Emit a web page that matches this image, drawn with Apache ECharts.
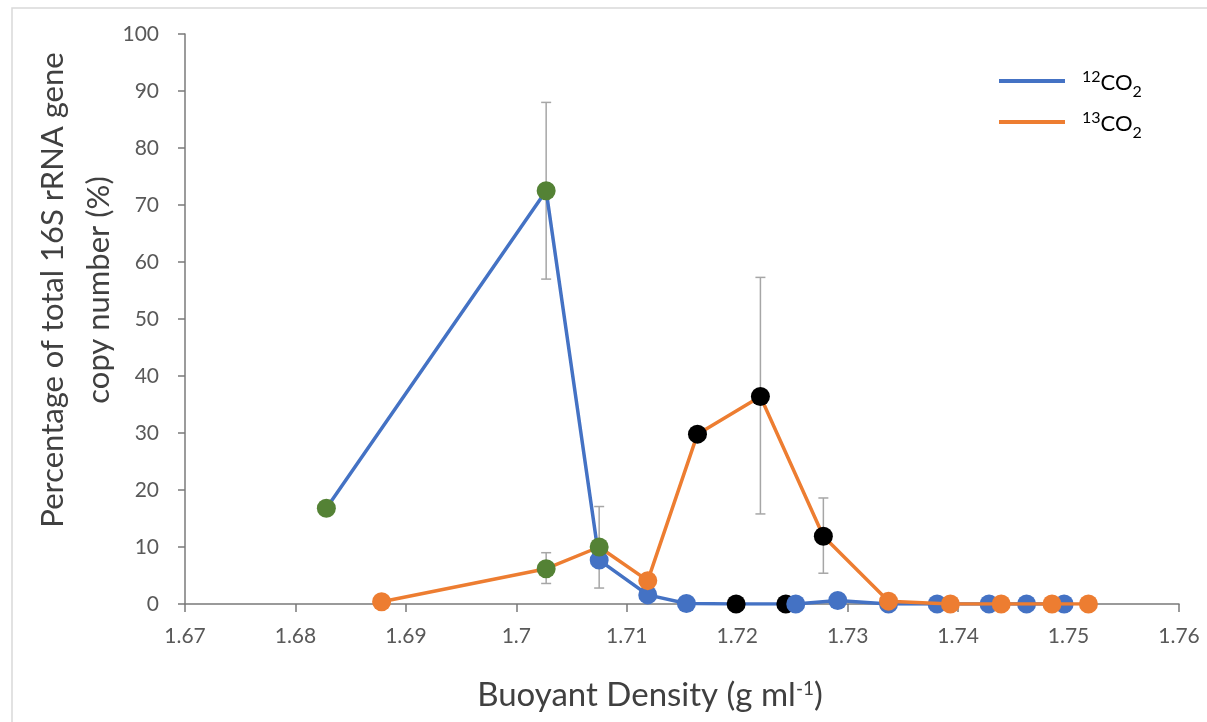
<!DOCTYPE html>
<html>
<head>
<meta charset="utf-8">
<script src="https://cdn.jsdelivr.net/npm/echarts@6/dist/echarts.min.js"></script>
<style>
    html, body { margin: 0; padding: 0; background: #fff; }
    #chart { width: 1207px; height: 722px; }
</style>
</head>
<body>
<div id="chart"></div>
<script>
    // 12CO2 (blue line)
    var density12 = [1.6828, 1.7027, 1.7075, 1.7119, 1.7154, 1.7199, 1.7244, 1.7253, 1.7291, 1.7337, 1.7381, 1.7428, 1.7462, 1.7496];
    var percent12 = [16.8, 72.5, 7.7, 1.6, 0.1, 0, 0, 0, 0.6, 0, 0, 0, 0, 0];
    var marker12 = ['g', 'g', '', '', '', 'k', 'k', '', '', '', '', '', '', ''];
    // 13CO2 (orange line)
    var density13 = [1.6878, 1.7027, 1.7075, 1.7119, 1.7164, 1.7221, 1.7278, 1.7337, 1.7393, 1.7439, 1.7485, 1.7518];
    var percent13 = [0.4, 6.2, 10.0, 4.1, 29.8, 36.4, 11.9, 0.5, 0, 0, 0, 0];
    var marker13 = ['', 'g', 'g', '', 'k', 'k', 'k', '', '', '', '', ''];
    // error bars: x, low, high
    var errX = [1.7027, 1.7027, 1.7075, 1.7221, 1.7278];
    var errLow = [57.0, 3.6, 2.8, 15.8, 5.4];
    var errHigh = [88.0, 9.0, 17.1, 57.3, 18.6];

    var BLUE = '#4472c4', ORANGE = '#ed7d31', GREEN = '#548235', BLACK = '#000000';
    var FONT = 'Lato';

    function points(xs, ys, marks, base) {
        return xs.map(function (x, i) {
            var c = marks[i] === 'g' ? GREEN : (marks[i] === 'k' ? BLACK : base);
            return { value: [x, ys[i]], itemStyle: { color: c } };
        });
    }

    var myEcharts = echarts.init(document.getElementById('chart'));
    myEcharts.setOption({
        animation: false,
        textStyle: { fontFamily: FONT },
        grid: { left: 185, right: 28, top: 34, bottom: 118 },
        legend: {
            left: 994, top: 64, orient: 'vertical', itemGap: 10,
            itemWidth: 66, itemHeight: 4,
            data: [{ name: '12CO2', icon: 'rect' }, { name: '13CO2', icon: 'rect' }],
            formatter: function (name) {
                return '{sup|' + name.slice(0, 2) + '}{n|CO}{sub|2}';
            },
            textStyle: {
                padding: [0, 0, 0, 12],
                rich: {
                    n: { fontFamily: FONT, fontSize: 22, color: '#000', verticalAlign: 'bottom', lineHeight: 26 },
                    sup: { fontFamily: FONT, fontSize: 16, color: '#000', verticalAlign: 'bottom', lineHeight: 26, padding: [0, 0, 9, 0] },
                    sub: { fontFamily: FONT, fontSize: 16, color: '#000', verticalAlign: 'bottom', lineHeight: 26, padding: [0, 0, -6, 0] }
                }
            }
        },
        xAxis: {
            type: 'value', min: 1.67, max: 1.76, interval: 0.01,
            axisLine: { lineStyle: { color: '#7a7a7a', width: 1.5 } },
            axisTick: { show: true, length: 8, lineStyle: { color: '#7a7a7a', width: 1.5 } },
            axisLabel: {
                margin: 22, fontSize: 21, color: '#595959', fontFamily: FONT,
                formatter: function (v) { return String(+v.toFixed(2)); }
            },
            splitLine: { show: false }
        },
        yAxis: {
            type: 'value', min: 0, max: 100, interval: 10,
            axisLine: { show: true, lineStyle: { color: '#7a7a7a', width: 1.5 } },
            axisTick: { show: true, length: 7, lineStyle: { color: '#7a7a7a', width: 1.5 } },
            axisLabel: { margin: 26, fontSize: 21, color: '#595959', fontFamily: FONT },
            splitLine: { show: false }
        },
        graphic: [
            {
                type: 'rect', silent: true, z: -10,
                shape: { x: 12, y: 8, width: 1400, height: 900 },
                style: { fill: 'none', stroke: '#d9d9d9', lineWidth: 1.5 }
            },
            {
                type: 'text', silent: true,
                x: 76, y: 290, rotation: Math.PI / 2,
                style: {
                    text: 'Percentage of total 16S rRNA gene\ncopy number (%)',
                    align: 'center', verticalAlign: 'middle',
                    font: '31px ' + FONT, fill: '#404040', lineHeight: 46
                }
            },
            {
                type: 'text', silent: true,
                x: 650, y: 694,
                style: {
                    text: '{n|Buoyant Density (g ml}{sup|-1}{n|)}',
                    align: 'center', verticalAlign: 'middle',
                    rich: {
                        n: { fontFamily: FONT, fontSize: 33, fill: '#404040', verticalAlign: 'bottom', lineHeight: 36 },
                        sup: { fontFamily: FONT, fontSize: 19, fill: '#404040', verticalAlign: 'bottom', lineHeight: 36, padding: [0, 0, 14, 0] }
                    }
                }
            }
        ],
        series: [
            {
                type: 'custom', name: 'err', z: 1, silent: true,
                data: errX.map(function (x, i) { return [x, errLow[i], errHigh[i]]; }),
                renderItem: function (params, api) {
                    var lo = api.coord([api.value(0), api.value(1)]);
                    var hi = api.coord([api.value(0), api.value(2)]);
                    var w = 5;
                    var st = { stroke: '#a6a6a6', lineWidth: 1.5 };
                    return {
                        type: 'group',
                        children: [
                            { type: 'line', shape: { x1: lo[0], y1: lo[1], x2: hi[0], y2: hi[1] }, style: st },
                            { type: 'line', shape: { x1: lo[0] - w, y1: lo[1], x2: lo[0] + w, y2: lo[1] }, style: st },
                            { type: 'line', shape: { x1: hi[0] - w, y1: hi[1], x2: hi[0] + w, y2: hi[1] }, style: st }
                        ]
                    };
                }
            },
            {
                name: '12CO2', type: 'line', z: 3,
                symbol: 'circle', symbolSize: 19, showAllSymbol: true,
                lineStyle: { color: BLUE, width: 3.5 },
                itemStyle: { color: BLUE },
                data: points(density12, percent12, marker12, BLUE)
            },
            {
                name: '13CO2', type: 'line', z: 4,
                symbol: 'circle', symbolSize: 19, showAllSymbol: true,
                lineStyle: { color: ORANGE, width: 3.5 },
                itemStyle: { color: ORANGE },
                data: points(density13, percent13, marker13, ORANGE)
            }
        ]
    });
    window.onresize = myEcharts.resize;
</script>
</body>
</html>
